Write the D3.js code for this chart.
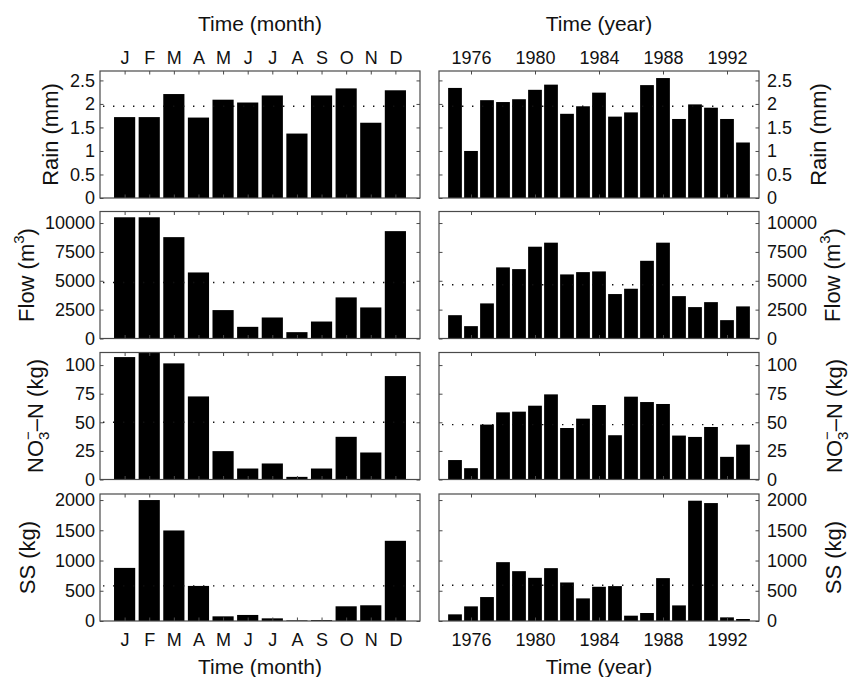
<!DOCTYPE html>
<html><head><meta charset="utf-8">
<script src="https://cdn.jsdelivr.net/npm/d3@7"></script>
<style>
html,body{margin:0;padding:0;background:#fff;}
text{font-family:"Liberation Sans",Arial,Helvetica,sans-serif;fill:#111;}
</style></head>
<body>
<svg id="chart" width="850" height="677"></svg>
<script>
// ---- data ----
const months = ["J","F","M","A","M","J","J","A","S","O","N","D"];
const years = [1975,1976,1977,1978,1979,1980,1981,1982,1983,1984,1985,1986,1987,1988,1989,1990,1991,1992,1993];
const yearTicks = [1976,1980,1984,1988,1992];

const rainMonth = [1.72,1.72,2.21,1.71,2.09,2.03,2.18,1.37,2.18,2.33,1.60,2.29];
const flowMonth = [10500,10500,8780,5720,2460,1010,1820,550,1470,3560,2690,9300];
const no3Month  = [107,111,101.5,72.6,24.8,9.6,14,2.3,9.6,37.3,23.6,90.4];
const ssMonth   = [878,2000,1497,580,77,100,44,10,15,243,260,1326];

const rainYear = [2.34,1.00,2.08,2.04,2.10,2.30,2.41,1.79,1.95,2.24,1.73,1.82,2.40,2.55,1.68,1.99,1.92,1.68,1.18];
const flowYear = [2020,1070,3040,6160,6010,7950,8300,5550,5750,5810,3850,4310,6730,8300,3670,2720,3150,1590,2780];
const no3Year  = [17,9.9,48,58.7,59.3,64.5,74.4,45,53.2,65.1,38.7,72.4,67.7,66,38.4,37.2,45.9,19.8,30.5];
const ssYear   = [110,242,396,973,824,714,874,637,374,566,577,88,132,709,258,1989,1950,60,33];

const meanMonth = [1.95,4855,50,580];
const meanYear  = [1.95,4650,48,590];

const yMax   = [2.7,11000,111,2100];
const yTicks = [[0,0.5,1,1.5,2,2.5],[0,2500,5000,7500,10000],[0,25,50,75,100],[0,500,1000,1500,2000]];

// ---- layout ----
const svg = d3.select("#chart");
const panelTops = [71,211.5,352.5,494];
const panelH = 127;
const leftX = [100,420], rightX = [439,759];
const frameColor = "#4a4a4a";
const tickFS = 18, labelFS = 22, titleFS = 21;

const xMonth = d3.scaleLinear().domain([0,13]).range(leftX);
const xYear  = d3.scaleLinear().domain([1974,1994]).range(rightX);

const monthSeries = [rainMonth,flowMonth,no3Month,ssMonth];
const yearSeries  = [rainYear,flowYear,no3Year,ssYear];

function fmt(v){ return String(v); }

function drawPanel(row, side){
  const top = panelTops[row], bot = top + panelH;
  const y = d3.scaleLinear().domain([0,yMax[row]]).range([bot,top]);
  const isLeft = side === "left";
  const x = isLeft ? xMonth : xYear;
  const xs = isLeft ? d3.range(1,13) : years;
  const vals = isLeft ? monthSeries[row] : yearSeries[row];
  const unit = x(1)-x(0);
  const bw = unit*0.86;
  const g = svg.append("g");
  const clipId = "clip"+row+side;
  g.append("clipPath").attr("id",clipId).append("rect")
    .attr("x",x.range()[0]).attr("y",top).attr("width",x.range()[1]-x.range()[0]).attr("height",panelH);

  // bars
  g.append("g").attr("clip-path","url(#"+clipId+")")
    .selectAll("rect").data(vals).join("rect")
    .attr("x",(d,i)=>x(xs[i])-bw/2)
    .attr("width",bw)
    .attr("y",d=>y(d))
    .attr("height",d=>bot-y(d))
    .attr("fill","#000");

  // mean dotted line
  const m = isLeft ? meanMonth[row] : meanYear[row];
  g.append("line")
    .attr("x1",x.range()[0]+3).attr("x2",x.range()[1]-2)
    .attr("y1",y(m)).attr("y2",y(m))
    .attr("stroke","#111").attr("stroke-width",1.4)
    .attr("stroke-dasharray","1.4,8.6");

  // axes (inside ticks)
  const xtv = isLeft ? d3.range(1,13) : yearTicks;
  const tickLen = 3.5;
  const axB = d3.axisBottom(x).tickValues(xtv).tickSizeInner(-tickLen).tickSizeOuter(0).tickPadding(12.5)
      .tickFormat(row===3 ? (d=> isLeft ? months[d-1] : d) : "");
  const axT = d3.axisTop(x).tickValues(xtv).tickSizeInner(-tickLen).tickSizeOuter(0).tickPadding(7.5)
      .tickFormat(row===0 ? (d=> isLeft ? months[d-1] : d) : "");
  const axL = d3.axisLeft(y).tickValues(yTicks[row]).tickSizeInner(-tickLen).tickSizeOuter(0).tickPadding(5)
      .tickFormat(isLeft ? fmt : "");
  const axR = d3.axisRight(y).tickValues(yTicks[row]).tickSizeInner(-tickLen).tickSizeOuter(0).tickPadding(8)
      .tickFormat(isLeft ? "" : fmt);

  const styleAxis = sel => {
    sel.select(".domain").remove();
    sel.selectAll(".tick line").attr("stroke",frameColor);
    sel.selectAll(".tick text").attr("font-size",tickFS).attr("fill","#111")
      .attr("font-family","'Liberation Sans',Arial,sans-serif");
  };
  g.append("g").attr("transform","translate(0,"+bot+")").call(axB).call(styleAxis);
  g.append("g").attr("transform","translate(0,"+top+")").call(axT).call(styleAxis);
  g.append("g").attr("transform","translate("+x.range()[0]+",0)").call(axL).call(styleAxis);
  g.append("g").attr("transform","translate("+x.range()[1]+",0)").call(axR).call(styleAxis);

  // frame
  g.append("rect").attr("x",x.range()[0]).attr("y",top)
    .attr("width",x.range()[1]-x.range()[0]).attr("height",panelH)
    .attr("fill","none").attr("stroke",frameColor).attr("stroke-width",1.2);
}

for(let r=0;r<4;r++){ drawPanel(r,"left"); drawPanel(r,"right"); }

// titles
const titles = [
  {t:"Time (month)", x:(leftX[0]+leftX[1])/2, y:31},
  {t:"Time (year)",  x:(rightX[0]+rightX[1])/2, y:31},
  {t:"Time (month)", x:(leftX[0]+leftX[1])/2, y:674},
  {t:"Time (year)",  x:(rightX[0]+rightX[1])/2, y:674}
];
svg.selectAll("text.title").data(titles).join("text").attr("class","title")
  .attr("x",d=>d.x).attr("y",d=>d.y).attr("text-anchor","middle")
  .attr("font-size",titleFS).text(d=>d.t);

// y labels
const labelCentersL = [50,26,35,27];
const labelCentersR = [818,832,834,833];
function yLabel(row, cx){
  const cy = panelTops[row] + panelH/2;
  const bx = cx + 0.358*labelFS;
  const t = svg.append("text")
    .attr("transform","translate("+bx+","+cy+") rotate(-90)")
    .attr("text-anchor","middle").attr("font-size",labelFS);
  if(row===0){ t.text("Rain (mm)"); }
  else if(row===1){
    t.append("tspan").text("Flow (m");
    t.append("tspan").attr("font-size",15).attr("dy",-10).text("3");
    t.append("tspan").attr("dy",10).text(")");
  } else if(row===2){
    t.append("tspan").text("NO");
    t.append("tspan").attr("font-size",15).attr("dy",6).text("3");
    t.append("tspan").attr("font-size",15).attr("dx",-8.3).attr("dy",-16).text("\u2212");
    t.append("tspan").attr("dy",10).text("\u2013N (kg)");
  } else {
    t.text("SS (kg)");
  }
}
for(let r=0;r<4;r++){ yLabel(r,labelCentersL[r]); yLabel(r,labelCentersR[r]); }
</script>
</body></html>
